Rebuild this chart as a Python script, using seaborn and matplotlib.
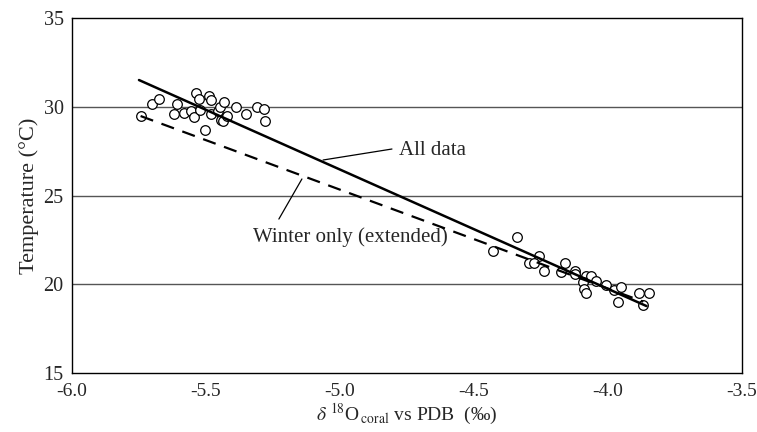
import matplotlib
matplotlib.use("Agg")
import matplotlib.pyplot as plt
import seaborn as sns
import numpy as np
import pandas as pd

# ---- data ----
d18o = [-5.744, -5.70, -5.674, -5.607, -5.62, -5.582, -5.556, -5.546, -5.537, -5.526,
        -5.522, -5.505, -5.49, -5.48, -5.48, -5.456, -5.448, -5.432, -5.444, -5.437,
        -5.42, -5.389, -5.352, -5.31, -5.282, -5.281,
        -4.34, -4.43, -4.258, -4.296, -4.275, -4.238, -4.162, -4.177, -4.124, -4.122,
        -4.082, -4.062, -4.043, -4.092, -4.088, -4.081, -4.007, -3.978, -3.953, -3.961,
        -3.884, -3.847, -3.87]
temp = [29.49, 30.18, 30.47, 30.18, 29.58, 29.68, 29.77, 29.45, 30.79, 30.47,
        29.83, 28.68, 30.62, 30.38, 29.58, 29.79, 30.01, 30.28, 29.26, 29.22,
        29.49, 29.98, 29.58, 29.98, 29.87, 29.19,
        22.67, 21.88, 21.59, 21.18, 21.18, 20.77, 21.18, 20.67, 20.77, 20.56,
        20.48, 20.48, 20.18, 20.11, 19.72, 19.49, 19.97, 19.67, 19.86, 18.98,
        19.49, 19.49, 18.83]

# regression lines: [x_start, x_end], slope, value at x_start
all_x = [-5.75, -3.856]
all_slope = -6.73
all_t0 = 31.52
winter_x = [-5.744, -3.868]
winter_slope = -5.58
winter_t0 = 29.49

x_ticks = [-6.0, -5.5, -5.0, -4.5, -4.0, -3.5]
y_ticks = [15, 20, 25, 30, 35]

sns.set_theme(style="white")
plt.rcParams['font.family'] = ['Liberation Serif', 'DejaVu Serif']
plt.rcParams['mathtext.fontset'] = 'stix'

fig = plt.figure(figsize=(7.57, 4.32), dpi=100)
ax = fig.add_axes([0.0951, 0.1366, 0.885, 0.821])

df = pd.DataFrame({"x": d18o, "t": temp})
sns.scatterplot(data=df, x="x", y="t", ax=ax, s=48, facecolor="white",
                edgecolor="black", linewidth=0.9, zorder=3)

ax_all = np.array(all_x)
line_all = pd.DataFrame({"x": ax_all, "t": all_t0 + all_slope * (ax_all - all_x[0])})
sns.lineplot(data=line_all, x="x", y="t", ax=ax, color="black", linewidth=1.8, zorder=4)

ax_w = np.array(winter_x)
line_w = pd.DataFrame({"x": ax_w, "t": winter_t0 + winter_slope * (ax_w - winter_x[0])})
sns.lineplot(data=line_w, x="x", y="t", ax=ax, color="black", linewidth=1.6,
             linestyle=(0, (6, 4)), zorder=4)

ax.set_xlim(-6.0, -3.5)
ax.set_ylim(15, 35)
ax.set_xticks(x_ticks)
ax.set_xticklabels([f"{v:.1f}" for v in x_ticks])
ax.set_yticks(y_ticks)
ax.set_yticklabels([str(v) for v in y_ticks])
ax.tick_params(axis="x", direction="in", length=5, color="#888888", labelsize=14, pad=7.5)
ax.tick_params(axis="y", length=0, labelsize=14.5, pad=6)
for yv in y_ticks[1:-1]:
    ax.axhline(yv, color="#555555", linewidth=1.0, zorder=1)
for sp in ax.spines.values():
    sp.set_color("black")
    sp.set_linewidth(1.0)

ax.set_ylabel("Temperature (°C)", fontsize=16, labelpad=3)
ax.set_xlabel(r"$\delta$ $^{18}$O$_{\,\mathrm{coral}}$ vs PDB  (‰)", fontsize=14, labelpad=1)

# annotations: leader lines and labels
ax.annotate("", xy=(-5.063, 27.01), xytext=(-4.806, 27.63),
            arrowprops=dict(arrowstyle="-", color="black", lw=0.9, shrinkA=0, shrinkB=0))
ax.text(-4.78, 27.55, "All data", fontsize=15, va="center", ha="left")
ax.annotate("", xy=(-5.142, 25.94), xytext=(-5.228, 23.68),
            arrowprops=dict(arrowstyle="-", color="black", lw=0.9, shrinkA=0, shrinkB=0))
ax.text(-5.325, 22.67, "Winter only (extended)", fontsize=15, va="center", ha="left")

fig.savefig("out.png", dpi=100)
